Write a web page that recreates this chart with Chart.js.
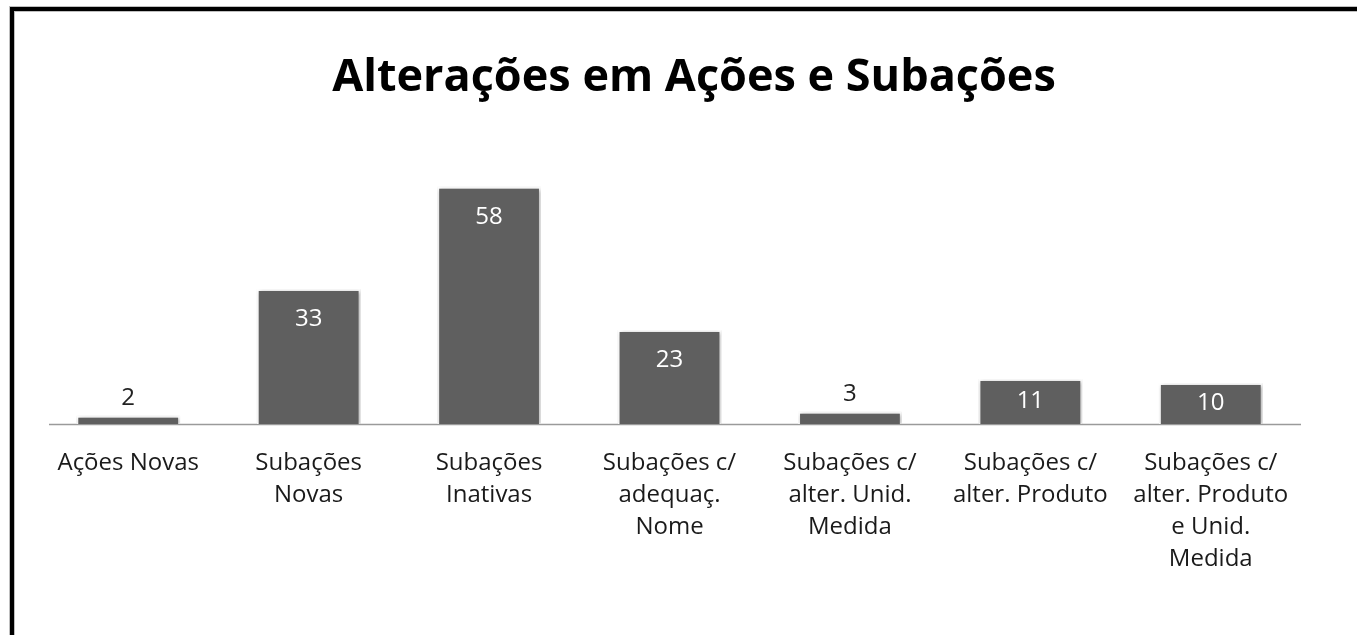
<!DOCTYPE html>
<html>
<head>
<meta charset="utf-8">
<script src="https://cdn.jsdelivr.net/npm/chart.js@4.4.1/dist/chart.umd.min.js"></script>
<style>
  html, body { margin: 0; padding: 0; background: #ffffff; }
  #wrap { position: relative; width: 1357px; height: 635px; }
  canvas { display: block; }
</style>
</head>
<body>
<div id="wrap"><canvas id="c" width="1357" height="635"></canvas></div>
<script>
const chartTitle = "Alterações em Ações e Subações";
const categories = [
  "Ações Novas",
  ["Subações", "Novas"],
  ["Subações", "Inativas"],
  ["Subações c/", "adequaç.", "Nome"],
  ["Subações c/", "alter. Unid.", "Medida"],
  ["Subações c/", "alter. Produto"],
  ["Subações c/", "alter. Produto", "e Unid.", "Medida"]
];
const values = [2, 33, 58, 23, 3, 11, 10];

const framePlugin = {
  id: 'frame',
  beforeDraw(chart) {
    const ctx = chart.ctx;
    ctx.save();
    ctx.fillStyle = '#ffffff';
    ctx.fillRect(0, 0, chart.width, chart.height);
    ctx.fillStyle = '#bfbfbf';
    ctx.fillRect(9, 6, chart.width - 9, 6);
    ctx.fillRect(9, 6, 6, chart.height - 6);
    ctx.fillStyle = '#000000';
    ctx.fillRect(10, 7, chart.width - 10, 4);
    ctx.fillRect(10, 7, 4, chart.height - 7);
    ctx.restore();
  }
};

const titlePlugin = {
  id: 'chartTitleText',
  afterDraw(chart) {
    const ctx = chart.ctx;
    ctx.save();
    ctx.font = 'bold 45px "Open Sans"';
    ctx.fillStyle = '#000000';
    ctx.textAlign = 'center';
    ctx.textBaseline = 'alphabetic';
    ctx.fillText(chartTitle, 694, 91);
    ctx.restore();
  }
};

const baselinePlugin = {
  id: 'baseline',
  beforeDatasetsDraw(chart) {
    const ctx = chart.ctx;
    const y = chart.scales.y.getPixelForValue(0);
    ctx.save();
    ctx.strokeStyle = '#9a9a9a';
    ctx.lineWidth = 1.5;
    ctx.beginPath();
    ctx.moveTo(49, y + 0.5);
    ctx.lineTo(chart.chartArea.right, y + 0.5);
    ctx.stroke();
    ctx.restore();
    ctx.save();
    ctx.shadowColor = 'rgba(0,0,0,0.35)';
    ctx.shadowBlur = 4;
    ctx.shadowOffsetX = 1;
    ctx.shadowOffsetY = 1;
  },
  afterDatasetsDraw(chart) {
    chart.ctx.restore();
  }
};

const labelPlugin = {
  id: 'valueLabels',
  afterDatasetsDraw(chart) {
    const ctx = chart.ctx;
    const meta = chart.getDatasetMeta(0);
    ctx.save();
    ctx.font = '24px "Open Sans"';
    ctx.textAlign = 'center';
    ctx.textBaseline = 'middle';
    meta.data.forEach((bar, i) => {
      const top = bar.y, base = bar.base;
      const h = base - top;
      let y;
      if (h < 25) {
        ctx.fillStyle = '#222222';
        y = top - 18;
      } else {
        ctx.fillStyle = '#ffffff';
        y = Math.min(top + 30, (top + base) / 2);
      }
      ctx.fillText(String(values[i]), bar.x, y);
    });
    ctx.restore();
  }
};

new Chart(document.getElementById('c'), {
  type: 'bar',
  data: {
    labels: categories,
    datasets: [{
      data: values,
      backgroundColor: '#5f5f5f',
      borderColor: '#ffffff',
      borderWidth: 2,
      borderSkipped: 'bottom',
      barPercentage: 0.575,
      categoryPercentage: 1.0
    }]
  },
  options: {
    responsive: false,
    animation: false,
    events: [],
    layout: { padding: { left: 38, right: 56, top: 101, bottom: 0 } },
    plugins: {
      legend: { display: false },
      tooltip: { enabled: false },
      title: { display: false }
    },
    scales: {
      x: {
        grid: { display: false, drawTicks: false },
        border: { display: false },
        ticks: {
          color: '#1a1a1a',
          font: { family: 'Open Sans', size: 24, lineHeight: 1.333 },
          padding: 23,
          maxRotation: 0,
          autoSkip: false
        },
        afterFit(scale) { scale.height = 211; }
      },
      y: {
        display: false,
        min: 0,
        max: 79
      }
    }
  },
  plugins: [framePlugin, titlePlugin, baselinePlugin, labelPlugin]
});
</script>
</body>
</html>
